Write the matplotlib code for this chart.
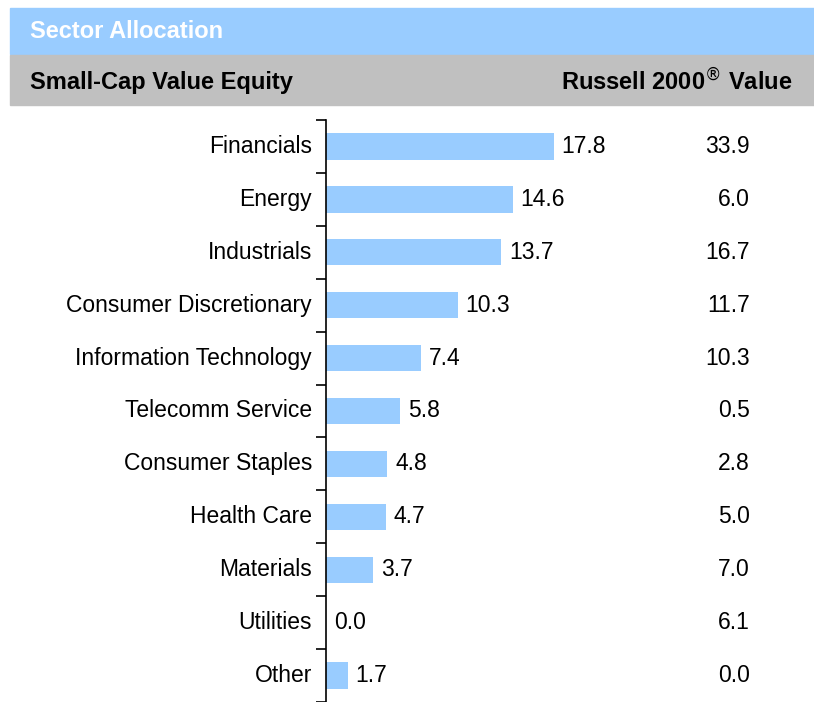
import matplotlib
matplotlib.use('Agg')
import matplotlib.pyplot as plt
from matplotlib.patches import Rectangle

plt.rcParams['font.family'] = ['Liberation Sans', 'DejaVu Sans']

sectors = ['Financials', 'Energy', 'Industrials', 'Consumer Discretionary',
           'Information Technology', 'Telecomm Service', 'Consumer Staples',
           'Health Care', 'Materials', 'Utilities', 'Other']
fund_values = [17.8, 14.6, 13.7, 10.3, 7.4, 5.8, 4.8, 4.7, 3.7, 0.0, 1.7]
bench_values = [33.9, 6.0, 16.7, 11.7, 10.3, 0.5, 2.8, 5.0, 7.0, 6.1, 0.0]

W, H = 814, 702
fig = plt.figure(figsize=(W / 100, H / 100), dpi=100)

# header bands
fig.patches.append(Rectangle((10 / W, 1 - 54 / H), 1 - 10 / W, 46 / H,
                             transform=fig.transFigure, color='#99CCFF', zorder=0))
fig.patches.append(Rectangle((10 / W, 1 - 105 / H), 1 - 10 / W, 50 / H,
                             transform=fig.transFigure, color='#C0C0C0', zorder=0))
hdr = 17
fig.text(30 / W, 1 - 31 / H, 'Sector Allocation', color='white', fontsize=hdr,
         fontweight='bold', va='center', ha='left')
fig.text(30 / W, 1 - 82 / H, 'Small-Cap Value Equity', color='black', fontsize=hdr,
         fontweight='bold', va='center', ha='left')
fig.text(792 / W, 1 - 82 / H, r'Russell 2000$^{\circledR}$ Value', color='black',
         fontsize=hdr, fontweight='bold', va='center', ha='right')

ax = fig.add_axes([326 / W, 0, 1 - 326 / W, 1 - 120 / H])
n = len(sectors)
pos = list(range(n))
ax.barh(pos, fund_values, height=0.5, color='#99CCFF')
ax.set_ylim(n - 0.5, -0.5)
ax.set_xlim(0, 488 / 12.8)

fs = 16.5
for i, (fv, bv) in enumerate(zip(fund_values, bench_values)):
    ax.text(fv + 0.6, i, f'{fv:.1f}', va='center', ha='left', fontsize=fs)
    ax.annotate(f'{bv:.1f}', xy=(750 / W, i), xycoords=('figure fraction', 'data'),
                va='center', ha='right', fontsize=fs)
    ax.text(-1.1, i, sectors[i], va='center', ha='right', fontsize=fs)

ax.set_yticks([p - 0.5 for p in pos] + [n - 0.5])
ax.set_yticklabels([])
ax.tick_params(axis='y', direction='out', length=7, width=1.2, color='black')
ax.set_xticks([])
for s in ['top', 'right', 'bottom']:
    ax.spines[s].set_visible(False)
ax.spines['left'].set_linewidth(1.2)

fig.savefig('out.png', dpi=100)
